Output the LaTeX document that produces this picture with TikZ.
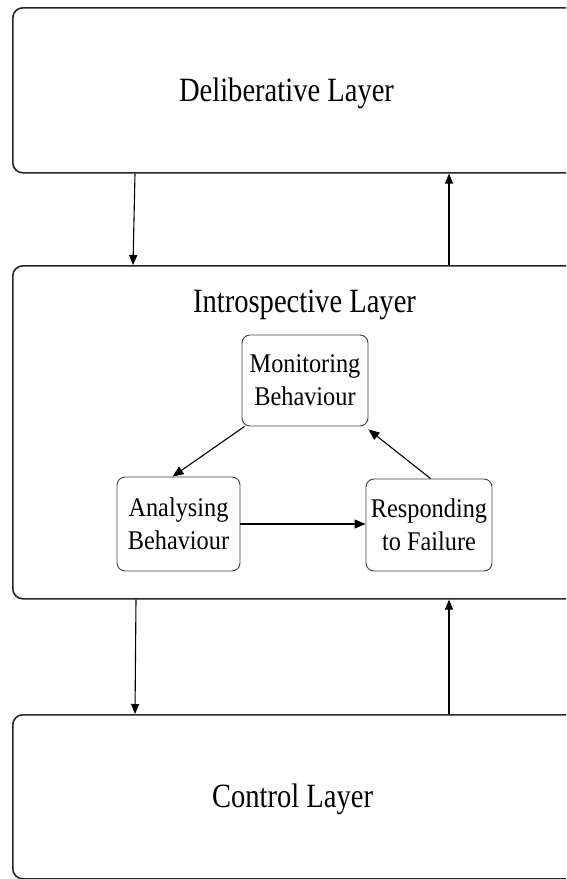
\documentclass[tikz,border=0pt]{standalone}
\usepackage{fontspec}
\usetikzlibrary{arrows.meta,calc}
\newfontfamily\layerfont[FakeStretch=0.84]{Liberation Serif}
\newfontfamily\stagefont[FakeStretch=0.9]{Liberation Serif}
\begin{document}
\begin{tikzpicture}[x=1pt,y=-1pt,
  layerbox/.style={draw=black!85,line width=1.6pt,rounded corners=10pt,
    minimum width=600pt,inner sep=0pt,anchor=north west},
  layertext/.style={font=\layerfont\fontsize{34}{40}\selectfont,anchor=base,inner sep=0pt},
  stagebox/.style={draw=black!75,line width=0.9pt,rounded corners=8pt,
    inner sep=0pt,align=center,font=\stagefont\fontsize{27}{33}\selectfont},
  arr/.style={line width=1.1pt,-{Triangle[length=10pt,width=8pt]}},
  sarr/.style={line width=1.1pt,-{Triangle[length=11pt,width=9pt]}}]
\useasboundingbox (0,0) rectangle (566,879);
\clip (0,0) rectangle (566,879);

% the three layers
\node[layerbox,minimum height=165pt] (delib) at (12,7) {};
\node[layerbox,minimum height=333pt] (intro) at (12,265) {};
\node[layerbox,minimum height=164pt] (ctrl) at (12,714) {};

\node[layertext] (delibtxt) at (286.5,101) {Deliberative Layer};
\node[layertext] (introtxt) at (304.5,312) {Introspective Layer};
\node[layertext] (ctrltxt) at (292.5,807) {Control Layer};

% stages inside the introspective layer
\node[stagebox,minimum width=126pt,minimum height=91pt] (mon) at (305,380.5) {Monitoring\\Behaviour};
\node[stagebox,minimum width=123pt,minimum height=94pt] (ana) at (178.5,524) {Analysing\\Behaviour};
\node[stagebox,minimum width=126pt,minimum height=92pt] (resp) at (429,525) {Responding\\to Failure};

% links between layers
\draw[arr] ([xshift=123pt]delib.south west) -- ([xshift=121pt]intro.north west);
\draw[arr] ([xshift=437pt]intro.north west) -- ([xshift=437pt]delib.south west);
\draw[arr] ([xshift=124pt]intro.south west) -- ([xshift=123pt]ctrl.north west);
\draw[arr] ([xshift=437pt]ctrl.north west) -- ([xshift=437pt]intro.south west);

% cycle of stages
\draw[sarr] ([xshift=3pt]mon.south west) -- ([xshift=56pt]ana.north west);
\draw[sarr] (ana.east) -- ([yshift=1pt]resp.west);
\draw[sarr] ([xshift=65pt]resp.north west) -- ([yshift=-3pt]mon.south east);
\end{tikzpicture}
\end{document}
